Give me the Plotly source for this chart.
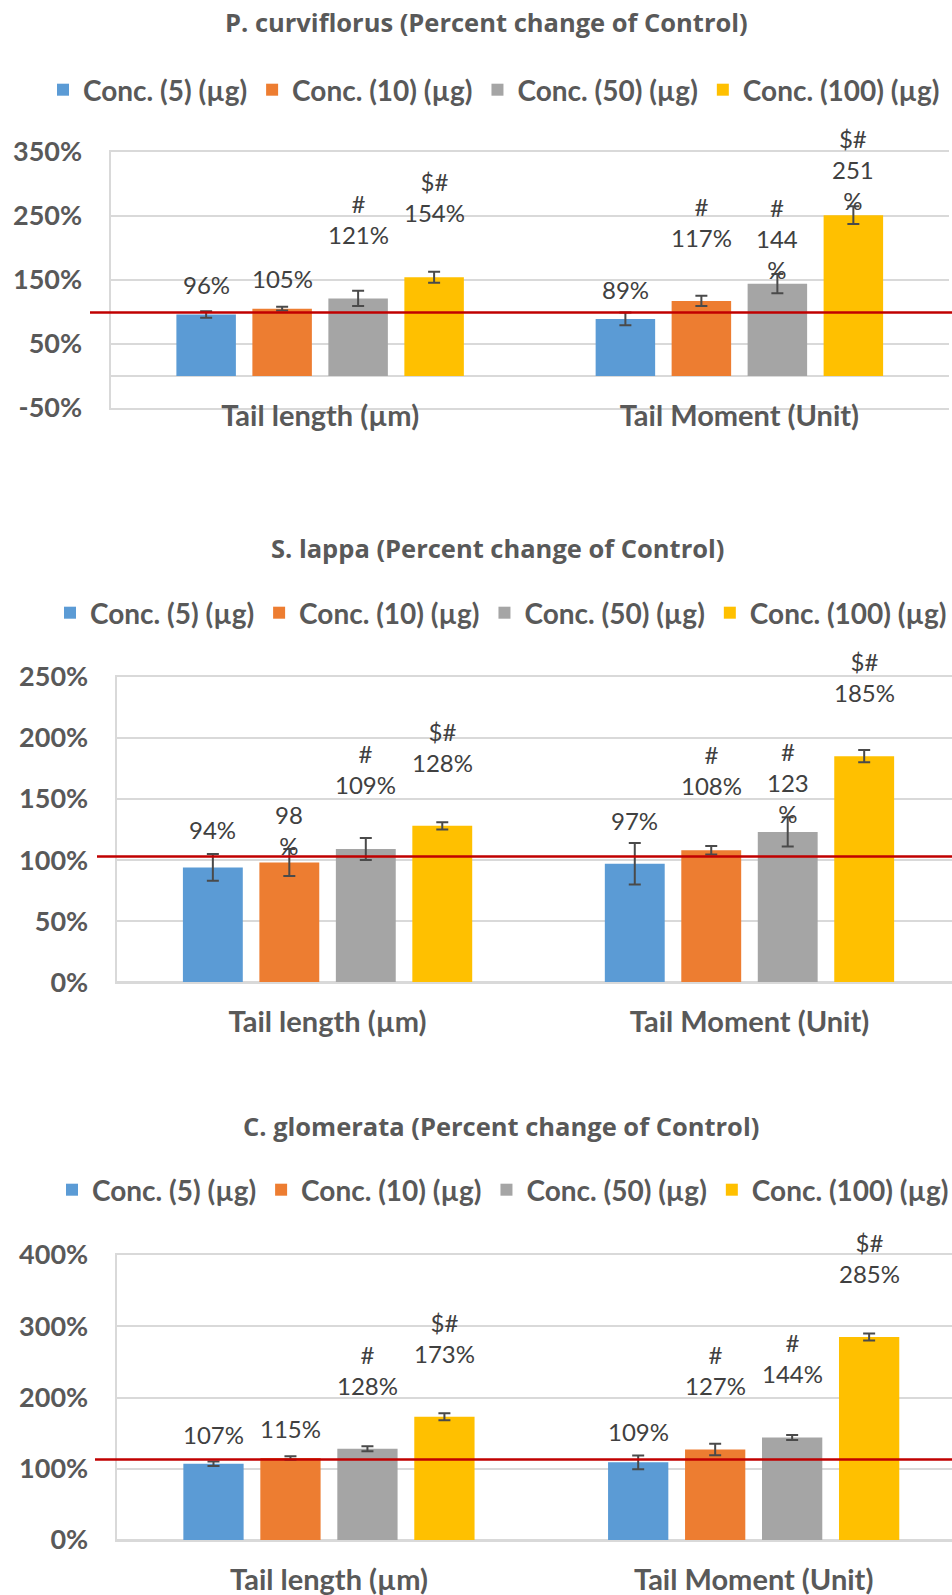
import plotly.graph_objects as go

# ---------------- data ----------------
categories = ["Tail length (µm)", "Tail Moment (Unit)"]
series_names = ["Conc. (5) (µg)", "Conc. (10) (µg)", "Conc. (50) (µg)", "Conc. (100) (µg)"]
titles = [
    "P. curviflorus (Percent change of Control)",
    "S. lappa (Percent change of Control)",
    "C. glomerata (Percent change of Control)",
]

# values per series: [Tail length, Tail Moment] (percent of control)
pc_values = [[96, 89], [105, 117], [121, 144], [154, 251]]
pc_errors = [[5, 10], [3, 8], [12, 15], [8.5, 14]]
pc_marks = [["", ""], ["", "#"], ["#", "#"], ["$#", "$#"]]

sl_values = [[94, 97], [98, 108], [109, 123], [128, 185]]
sl_errors = [[11, 17], [11, 3.5], [9, 12], [3, 5]]
sl_marks = [["", ""], ["", "#"], ["#", "#"], ["$#", "$#"]]

cg_values = [[107, 109], [115, 127], [128, 144], [173, 285]]
cg_errors = [[3.3, 9.6], [2.4, 8], [3.5, 3.5], [5, 5]]
cg_marks = [["", ""], ["", "#"], ["#", "#"], ["$#", "$#"]]

control_levels = [99, 103, 113]
y_ticks = [[-50, 50, 150, 250, 350], [0, 50, 100, 150, 200, 250], [0, 100, 200, 300, 400]]
y_ticklabels = [["-50%", "50%", "150%", "250%", "350%"],
                ["0%", "50%", "100%", "150%", "200%", "250%"],
                ["0%", "100%", "200%", "300%", "400%"]]

values_all = [pc_values, sl_values, cg_values]
errors_all = [pc_errors, sl_errors, cg_errors]
marks_all = [pc_marks, sl_marks, cg_marks]

# ---------------- styling / layout ----------------
W, H = 952, 1595
colors = ["#5B9BD5", "#ED7D31", "#A5A5A5", "#FFC000"]
FONT = "Lato"
TITLE_FONT = "Open Sans"
TXT = "#595959"
GRID = "#D9D9D9"
BARGAP = 0.275
GROUPGAP = 0.217

panels = [
    dict(top=151.7, bottom=408.0, left=110.5, right=949.0, xr=[-0.5, 1.5], yr=[-50, 350],
         title_y=22, title_x=487, leg_y=90, leg_x=43, red_x0=90, xstand=-19),
    dict(top=676.7, bottom=982.3, left=116.6, right=952.0, xr=[-0.5, 1.48], yr=[0, 250],
         title_y=548, title_x=497, leg_y=613, leg_x=50, red_x0=97, xstand=13),
    dict(top=1255.0, bottom=1540.0, left=116.6, right=952.0, xr=[-0.5, 1.467], yr=[0, 400],
         title_y=1126, title_x=501, leg_y=1190, leg_x=52, red_x0=95, xstand=13),
]
# labels that wrap onto an extra line in the original (chart, series, category)
wrapped = {(0, 2, 1), (0, 3, 1), (1, 1, 0), (1, 2, 1)}
# vertical lift (px) of the label's last line centre above bar top
label_lift = [
    [[29, 29], [30, 63], [63, 14], [64, 14]],
    [[37, 43], [17, 64], [64, 18], [63, 63]],
    [[29, 30], [29, 64], [63, 63], [63, 63]],
]

fig = go.Figure()
annotations = []
shapes = []

for p, pan in enumerate(panels):
    ax = "" if p == 0 else str(p + 1)
    xname, yname = "x" + ax, "y" + ax
    legname = "legend" + ax
    for s in range(4):
        fig.add_trace(go.Bar(
            x=categories, y=values_all[p][s], name=series_names[s],
            marker=dict(color=colors[s], line=dict(width=0)),
            error_y=dict(type="data", array=errors_all[p][s], visible=True,
                         color="#4A4A4A", thickness=2, width=6),
            xaxis=xname, yaxis=yname, legend=legname,
            offsetgroup=str(s),
        ))
    x0 = pan["left"] / W
    x1 = pan["right"] / W
    y0 = 1 - pan["bottom"] / H
    y1 = 1 - pan["top"] / H
    fig.layout["xaxis" + ax] = dict(
        domain=[x0, x1], anchor=yname, type="category", range=pan["xr"],
        showgrid=False, showline=True, linecolor=GRID, linewidth=2, mirror=True,
        ticks="", ticklabelstandoff=pan["xstand"],
        tickfont=dict(family=FONT, size=29, color=TXT, weight="bold"),
    )
    fig.layout["yaxis" + ax] = dict(
        domain=[y0, y1], anchor=xname, range=pan["yr"],
        tickvals=y_ticks[p], ticktext=y_ticklabels[p],
        showgrid=True, gridcolor=GRID, gridwidth=2,
        zeroline=True, zerolinecolor=GRID, zerolinewidth=2,
        showline=True, linecolor=GRID, linewidth=2,
        ticks="", ticklabelstandoff=21,
        tickfont=dict(family=FONT, size=27, color=TXT, weight="bold"),
    )
    fig.layout[legname] = dict(
        orientation="h", x=pan["leg_x"] / W, xanchor="left",
        y=1 - pan["leg_y"] / H, yanchor="middle",
        font=dict(family=FONT, size=28, color=TXT, weight="bold"),
        bgcolor="rgba(0,0,0,0)", itemclick=False, tracegroupgap=0,
    )
    annotations.append(dict(
        text=titles[p], xref="paper", yref="paper",
        x=pan["title_x"] / W, y=1 - pan["title_y"] / H,
        xanchor="center", yanchor="middle", showarrow=False,
        font=dict(family=TITLE_FONT, size=25.5, color=TXT, weight="bold"),
    ))
    # control reference line
    shapes.append(dict(
        type="line", xref="paper", yref=yname,
        x0=pan["red_x0"] / W, x1=1, y0=control_levels[p], y1=control_levels[p],
        line=dict(color="#C00000", width=2.5), layer="above",
    ))
    # data labels
    span = pan["xr"][1] - pan["xr"][0]
    cat_px = (pan["right"] - pan["left"]) / span
    slot = cat_px * (1 - BARGAP) / 4
    for s in range(4):
        for c in range(2):
            v = values_all[p][s][c]
            num = f"{v}%"
            if (p, s, c) in wrapped:
                num = f"{v}<br>%"
            mk = marks_all[p][s][c]
            txt = (mk + "<br>" + num) if mk else num
            annotations.append(dict(
                text=txt, xref=xname, yref=yname, x=categories[c], y=v,
                xshift=(s - 1.5) * slot, yshift=label_lift[p][s][c] - 16,
                xanchor="center", yanchor="bottom", showarrow=False,
                font=dict(family=FONT, size=24, color="#404040"),
            ))

fig.update_layout(
    width=W, height=H, margin=dict(l=0, r=0, t=0, b=0, autoexpand=False),
    paper_bgcolor="white", plot_bgcolor="white",
    barmode="group", bargap=BARGAP, bargroupgap=GROUPGAP,
    annotations=annotations, shapes=shapes,
)
fig.write_html("out.html", config={"displayModeBar": False},
               post_script="document.body.style.margin='0';document.body.style.overflow='hidden';")
